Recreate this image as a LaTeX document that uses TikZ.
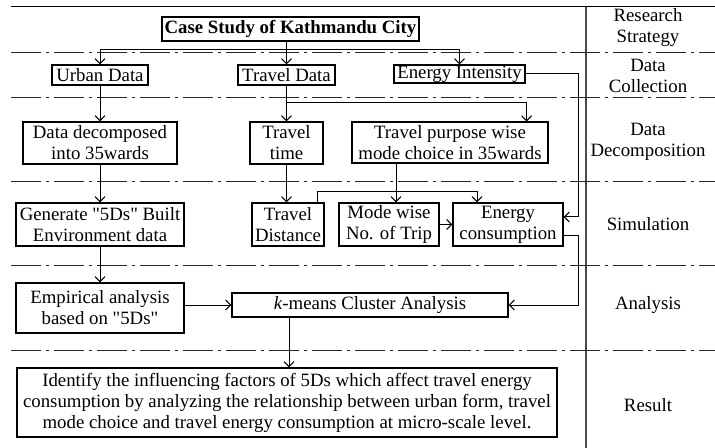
\documentclass[tikz,border=0pt]{standalone}
\usepackage{fontspec}
\setmainfont{Liberation Serif}
\usepackage{tikz}
\usetikzlibrary{positioning,arrows.meta}

\begin{document}
\begin{tikzpicture}[
		x=0.5pt, y=-0.5pt,  % 以像素为单位, y 向下
		font=\fontsize{9.4}{10.5}\selectfont,
		box/.style={rectangle, draw, line width=0.6pt, inner sep=0pt, inner xsep=1pt, text centered, align=center},
		arrow/.style={->, line width=0.5pt, >={Straight Barb[length=2.5pt,width=5pt]}},
		stage/.style={align=center},
		sepline/.style={line width=0.5pt, black!85, dash pattern=on 15pt off 2.5pt on 1.5pt off 2.5pt}
		]
		\useasboundingbox (0,0) rectangle (715,448);
		% 分隔线
		\draw[line width=0.5pt] (11,7) -- (715,7);
		\draw[line width=0.8pt, black!70] (586,7) -- (586,448);
		\foreach \y in {53,98,182,265,350}
			\draw[sepline] (11,\y) -- (715,\y);
		% 右侧阶段名称
		\node[stage] (strategy) at (648,28) {Research\\Strategy};
		\node[stage] (collection) at (648,76) {Data\\Collection};
		\node[stage] (decomposition) at (648,142) {Data\\Decomposition};
		\node[stage] (simulation) at (648,224) {Simulation};
		\node[stage] (analysis) at (648,305) {Analysis};
		\node[stage] (result) at (648,405) {Result};
		% 流程框
		\node[box, minimum width=128.5pt, minimum height=12pt] (casestudy) at (290.5,29) {\textbf{Case Study of Kathmandu City}};
		\node[box, minimum width=48pt, minimum height=10pt] (urban) at (100,75) {Urban Data};
		\node[box, minimum width=48.5pt, minimum height=10pt] (traveldata) at (286.5,75) {Travel Data};
		\node[box, minimum width=65.5pt, minimum height=9pt] (intensity) at (459.5,74) {Energy Intensity};
		\node[box, minimum width=77pt, minimum height=21pt] (decomposed) at (100,143) {Data decomposed\\into 35wards};
		\node[box, minimum width=36.5pt, minimum height=21pt] (traveltime) at (286.5,143) {Travel\\time};
		\node[box, minimum width=98pt, minimum height=20.5pt] (purpose) at (450,142.5) {Travel purpose wise\\mode choice in 35wards};
		\node[box, minimum width=84pt, minimum height=21.5pt] (generate) at (100,224.5) {Generate \textquotedbl 5Ds\textquotedbl{} Built\\Environment data};
		\node[box, minimum width=36pt, minimum height=21.5pt] (distance) at (288,224.5) {Travel\\Distance};
		\node[box, minimum width=50pt, minimum height=21.5pt] (modewise) at (389,224.5) {Mode wise\\No. of Trip};
		\node[box, minimum width=55pt, minimum height=21.5pt] (consumption) at (508,224.5) {Energy\\consumption};
		\node[box, minimum width=84pt, minimum height=25pt] (empirical) at (100,308) {Empirical analysis\\based on \textquotedbl 5Ds\textquotedbl};
		\node[box, minimum width=138pt, minimum height=12pt] (kmeans) at (370,305) {\textit{k}-means Cluster Analysis};
		\node[box, minimum width=270pt, minimum height=34.5pt] (finding) at (287,402.5) {Identify the influencing factors of 5Ds which affect travel energy\\consumption by analyzing the relationship between urban form, travel\\mode choice and travel energy consumption at micro-scale level.};
		% 辅助坐标
		\coordinate (split1) at (286.5,50);
		\coordinate (split2) at (286.5,103);
		\coordinate (busx) at (578,0);
		\coordinate (ein) at ([yshift=3.75pt]consumption.east);
		\coordinate (eout) at ([yshift=-5.75pt]consumption.east);
		\coordinate (purposein) at ([xshift=-11pt]purpose.north east);
		\coordinate (purposeout) at ([xshift=-27pt]purpose.south);
		\coordinate (distout) at ([xshift=-3.5pt]distance.north east);
		\coordinate (consin) at ([xshift=-15.5pt]consumption.north);
		\coordinate (kout) at ([xshift=-40.5pt]kmeans.south);
		% 连接箭头
		\draw[line width=0.5pt] (casestudy.south -| split1) -- (split1);
		\draw[arrow] (split1) -| (urban.north);
		\draw[arrow] (split1) -- (traveldata.north);
		\draw[arrow] (split1) -| (intensity.north);
		\draw[arrow] (urban) -- (decomposed);
		\draw[arrow] (traveldata.south) -- (traveltime.north);
		\draw[arrow] (split2) -| (purposein);
		\draw[arrow] (intensity.east) -| (busx |- ein) -- (ein);
		\draw[arrow] (decomposed) -- (generate);
		\draw[arrow] (traveltime.south) -- (traveltime.south |- distance.north);
		\draw[arrow] (purposeout) -- (purposeout |- modewise.north);
		\draw[arrow] (distout) -- ++(0,-11) -| (consin);
		\draw[arrow] (modewise) -- (consumption);
		\draw[arrow] (eout) -| (busx |- kmeans.east) -- (kmeans.east);
		\draw[arrow] (generate) -- (empirical);
		\draw[arrow] (kmeans.west -| empirical.east) -- (kmeans.west);
		\draw[arrow] (kout) -- (kout |- finding.north);
	\end{tikzpicture}
\end{document}
